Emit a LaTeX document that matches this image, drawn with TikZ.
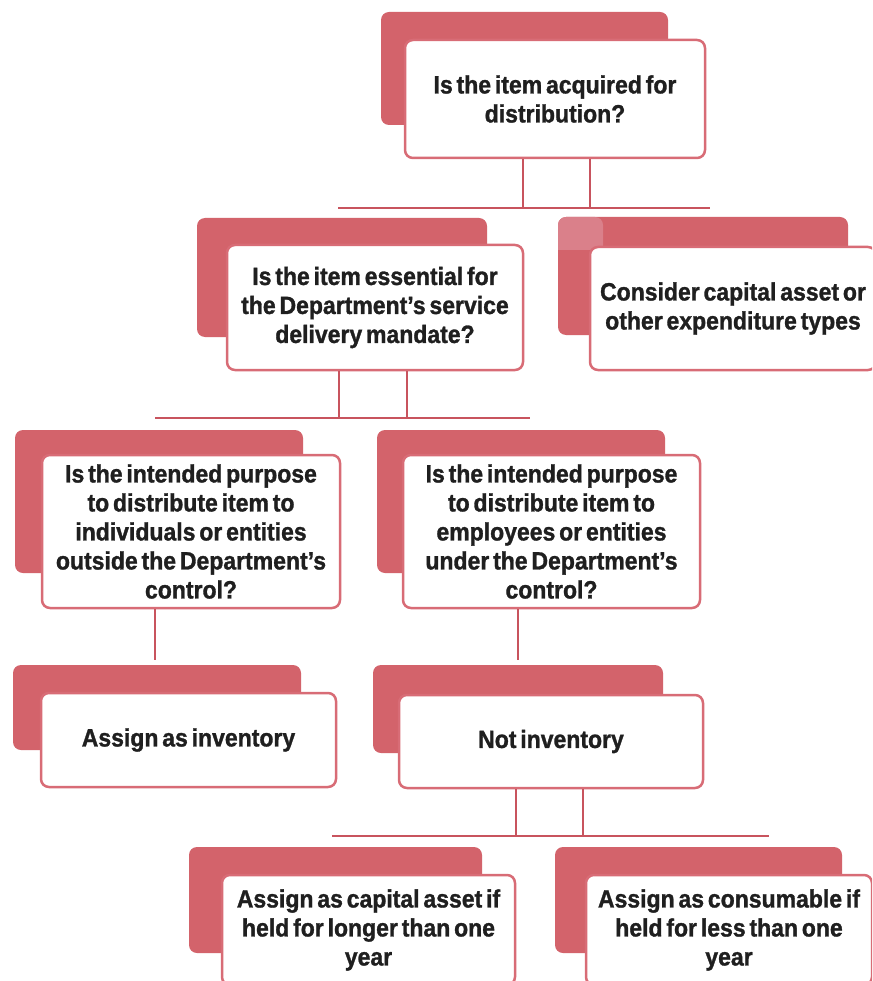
\documentclass[tikz,border=0pt]{standalone}
\usepackage{fontspec}
\setmainfont{Liberation Sans}[FakeStretch=0.92, WordSpace=0.6, BoldFeatures={FakeBold=1.2}]
\definecolor{backred}{RGB}{211,99,107}
\definecolor{backpink}{RGB}{218,128,138}
\definecolor{edgered}{RGB}{216,108,118}
\definecolor{linered}{RGB}{200,84,94}
\begin{document}
\begin{tikzpicture}[x=1pt,y=-1pt,
  back/.style={fill=backred, draw=none, rounded corners=8pt, inner sep=0pt},
  front/.style={fill=white, draw=edgered, line width=2.5pt, rounded corners=8pt, inner sep=0pt,
    align=center, font=\bfseries\fontsize{25}{29}\selectfont, text=black!88},
  conn/.style={draw=linered, line width=2.5pt}]
\useasboundingbox (0,0) rectangle (872,981);
\clip (0,0) rectangle (872,981);
% bars
\coordinate (b1l) at (338,208); \coordinate (b1r) at (710,208);
\coordinate (b1a) at (523,208); \coordinate (b1b) at (590,208);
\coordinate (b2l) at (155,418); \coordinate (b2r) at (530,418);
\coordinate (b2a) at (339,418); \coordinate (b2b) at (407,418);
\coordinate (b3l) at (332,836); \coordinate (b3r) at (769,836);
\coordinate (b3a) at (516,836); \coordinate (b3b) at (583,836);
% back boxes
\node[back, minimum width=287, minimum height=113] (r1) at (524.5,68.5) {};
\node[back, minimum width=290, minimum height=119] (r2) at (342,277.5) {};
\node[back, minimum width=290, minimum height=118] (r3) at (703,276) {};
\fill[backpink, rounded corners=8pt] (558,217) -- (603,217) [sharp corners] -- (603,250) -- (558,250) [rounded corners=8pt] -- cycle;
\node[back, minimum width=288, minimum height=143] (r4) at (159,501.5) {};
\node[back, minimum width=288, minimum height=143] (r5) at (521,501.5) {};
\node[back, minimum width=288, minimum height=85] (r6) at (157,707.5) {};
\node[back, minimum width=290, minimum height=88] (r7) at (518,709) {};
\node[back, minimum width=293, minimum height=106] (r8) at (335.5,900) {};
\node[back, minimum width=287, minimum height=106] (r9) at (698.5,900) {};
% front boxes
\node[front, minimum width=300, minimum height=118] (q1) at (555,99)
  {Is the item acquired for\\distribution?};
\node[front, minimum width=296, minimum height=125] (q2) at (375,307.5)
  {Is the item essential for\\the Department's service\\delivery mandate?};
\node[front, minimum width=286, minimum height=123] (q3) at (733,308.5)
  {Consider capital asset or\\other expenditure types};
\node[front, minimum width=298, minimum height=153] (q4) at (191,531.5)
  {Is the intended purpose\\to distribute item to\\individuals or entities\\outside the Department's\\control?};
\node[front, minimum width=297, minimum height=153] (q5) at (551.5,531.5)
  {Is the intended purpose\\to distribute item to\\employees or entities\\under the Department's\\control?};
\node[front, minimum width=295, minimum height=94] (q6) at (188.5,740)
  {Assign as inventory};
\node[front, minimum width=304, minimum height=93] (q7) at (551,741.5)
  {Not inventory};
\node[front, minimum width=293, minimum height=110] (q8) at (368.5,930)
  {Assign as capital asset if\\held for longer than one\\year};
\node[front, minimum width=286, minimum height=110] (q9) at (729,930)
  {Assign as consumable if\\held for less than one\\year};
% connectors
\draw[conn] (q1.south -| b1a) -- (b1a);
\draw[conn] (q1.south -| b1b) -- (b1b);
\draw[conn] (b1l) -- (b1r);
\draw[conn] (q2.south -| b2a) -- (b2a);
\draw[conn] (q2.south -| b2b) -- (b2b);
\draw[conn] (b2l) -- (b2r);
\coordinate (c4) at (155,660);
\coordinate (c5) at (518,660);
\draw[conn, line width=2pt] (q4.south -| c4) -- (c4);
\draw[conn, line width=2pt] (q5.south -| c5) -- (c5);
\draw[conn] (q7.south -| b3a) -- (b3a);
\draw[conn] (q7.south -| b3b) -- (b3b);
\draw[conn] (b3l) -- (b3r);
\end{tikzpicture}
\end{document}
